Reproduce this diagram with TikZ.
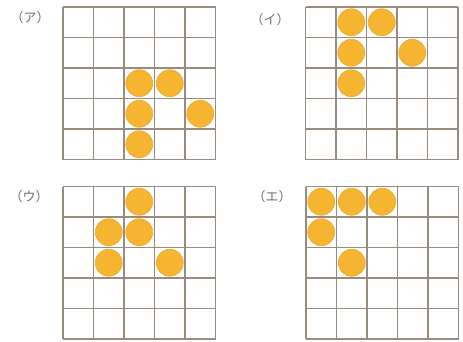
\documentclass[tikz,border=0pt]{standalone}
\usepackage{fontspec}
\newfontfamily\jp{Noto Sans CJK JP}
\definecolor{gridc}{HTML}{988B80}
\definecolor{dotc}{HTML}{F6B530}
\definecolor{dotedge}{HTML}{EDA62A}
\definecolor{labc}{HTML}{707070}
\tikzset{
  gridline/.style={draw=gridc, line width=1.2pt},
  dot/.style={circle, minimum size=27pt, inner sep=0pt, fill=dotc, draw=dotedge, line width=0.6pt},
  lab/.style={font=\jp\fontsize{13}{13}\selectfont, text=labc, inner sep=0pt}
}
\newcommand{\mygrid}[3]{%
  \begin{scope}[shift={(#1,#2)}]
    \foreach \k in {0,...,5} {
      \draw[gridline] ({\k*30.5},0) -- ({\k*30.5},152.5);
      \draw[gridline] (0,{\k*30.5}) -- (152.5,{\k*30.5});
    }
    \foreach \r/\c [count=\i] in {#3} {
      \node[dot] (d#1x#2x\i) at ({(\c+0.5)*30.5},{(\r+0.5)*30.5}) {};
    }
  \end{scope}}
\begin{document}
\begin{tikzpicture}[x=1pt,y=-1pt]
\useasboundingbox[fill=white] (0,0) rectangle (463,341);
\mygrid{63}{7}{2/2,2/3,3/2,3/4,4/2}
\mygrid{305.5}{7}{0/1,0/2,1/1,1/3,2/1}
\mygrid{63}{186.5}{0/2,1/1,1/2,2/1,2/3}
\mygrid{306}{186.5}{0/0,0/1,0/2,1/0,2/1}
\node[lab] (la) at (30,18) {（ア）};
\node[lab] (li) at (270,20) {（イ）};
\node[lab] (lu) at (29,197) {（ウ）};
\node[lab] (le) at (272,197) {（エ）};
\end{tikzpicture}
\end{document}
